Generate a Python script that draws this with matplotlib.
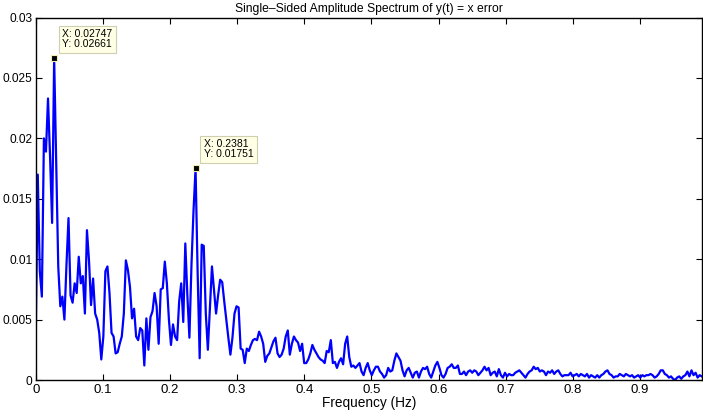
import numpy as np
import matplotlib
matplotlib.use('Agg')
import matplotlib.pyplot as plt

plt.rcParams['font.family'] = ['Liberation Sans', 'DejaVu Sans']

# frequency step of the spectrum (Hz)
df = 0.0030523

# single-sided amplitude, one value per frequency bin
amp = [
    # 0 - 0.15
    0.0032, 0.0170, 0.0090, 0.0069, 0.0200, 0.0189, 0.0233, 0.0185, 0.0130, 0.02661,
    0.0180, 0.0094, 0.0061, 0.0069, 0.0050, 0.0095, 0.0134, 0.0070, 0.0064, 0.0080,
    0.0072, 0.0102, 0.0080, 0.0086, 0.0055, 0.0124, 0.0099, 0.0062, 0.0084, 0.0055,
    0.0050, 0.0039, 0.0017, 0.0036, 0.0090, 0.0094, 0.0072, 0.0039, 0.0036, 0.0022,
    0.0023, 0.0030, 0.0036, 0.0055, 0.0099, 0.0091, 0.0077, 0.0051, 0.0059, 0.0036,
    0.0033,
    # 0.15 - 0.30
    0.0043, 0.0041, 0.0012, 0.0051, 0.0025, 0.0052, 0.0057, 0.0072, 0.0061, 0.0030,
    0.0075, 0.0076, 0.0098, 0.0080, 0.0050, 0.0029, 0.0046, 0.0036, 0.0033, 0.0065,
    0.0080, 0.0048, 0.0113, 0.0070, 0.0035, 0.0095, 0.0140, 0.01751, 0.0090, 0.0018,
    0.0112, 0.0111, 0.0055, 0.0025, 0.0060, 0.0094, 0.0075, 0.0055, 0.0070, 0.0083,
    0.0081, 0.0065, 0.0050, 0.0035, 0.0021, 0.0035, 0.0055, 0.0061, 0.0060,
    # 0.30 - 0.46
    0.0026, 0.0025, 0.0014, 0.0026, 0.0024, 0.0029, 0.0033, 0.0034, 0.0033, 0.0040,
    0.0036, 0.0030, 0.0015, 0.0020, 0.0022, 0.0027, 0.0032, 0.0035, 0.0022, 0.0019,
    0.0021, 0.0026, 0.0036, 0.0041, 0.0021, 0.0030, 0.0036, 0.0033, 0.0031, 0.0024,
    0.0030, 0.0014, 0.0014, 0.0017, 0.0022, 0.0029, 0.0025, 0.0022, 0.0019, 0.0017,
    0.0016, 0.0014, 0.0024, 0.0023, 0.0033, 0.0014, 0.0015, 0.0010, 0.0015, 0.0018,
    0.0013, 0.0030, 0.0036,
    # 0.47 - 0.63
    0.0019, 0.0011, 0.0012, 0.0010, 0.0012, 0.0014, 0.0007, 0.0004, 0.0010, 0.0014,
    0.0008, 0.0004, 0.0008, 0.0011, 0.0011, 0.0007, 0.0005, 0.0002, 0.0004, 0.0010,
    0.0007, 0.0008, 0.0016, 0.0022, 0.0019, 0.0016, 0.0008, 0.0003, 0.0008, 0.0010,
    0.0006, 0.0002, 0.0006, 0.0007, 0.0002, 0.0007, 0.0010, 0.0009, 0.0011, 0.0005,
    0.0002, 0.0007, 0.0012, 0.0015, 0.0010, 0.0004, 0.0002, 0.0005, 0.0010, 0.0011,
    0.0013, 0.0010, 0.0010, 0.0012,
    # 0.63 - 0.80
    0.0005, 0.0005, 0.0007, 0.0004, 0.0007, 0.0008, 0.0006, 0.0008, 0.0007, 0.0004,
    0.0006, 0.0008, 0.0011, 0.0008, 0.0010, 0.0004, 0.0006, 0.0007, 0.0003, 0.0009,
    0.0004, 0.0002, 0.0006, 0.0003, 0.0005, 0.0004, 0.0004, 0.0006, 0.0007, 0.0008,
    0.0006, 0.0004, 0.0002, 0.0005, 0.0007, 0.0008, 0.0011, 0.0009, 0.0010, 0.0007,
    0.0008, 0.0007, 0.0004, 0.0007, 0.0006, 0.0008, 0.0005, 0.0007, 0.0008, 0.0005,
    0.0003, 0.0004, 0.0004, 0.0004, 0.0006, 0.0003,
    # 0.80 - 0.99
    0.0004, 0.0005, 0.0003, 0.0005, 0.0004, 0.0003, 0.0005, 0.0002, 0.0004, 0.0003,
    0.0002, 0.0004, 0.0002, 0.0004, 0.0005, 0.0007, 0.0008, 0.0005, 0.0004, 0.0002,
    0.0003, 0.0003, 0.0005, 0.0004, 0.0003, 0.0005, 0.0004, 0.0003, 0.0004, 0.0002,
    0.0003, 0.0004, 0.0002, 0.0004, 0.0003, 0.0004, 0.0004, 0.0005, 0.0004, 0.0002,
    0.0003, 0.0005, 0.0008, 0.0008, 0.0005, 0.0004, 0.0002, 0.0003, 0.0001, 0.0000,
    0.0002, 0.0003, 0.0001, 0.0003, 0.0004, 0.0007, 0.0003, 0.0008, 0.0004, 0.0006,
    0.0002, 0.0004, 0.0003,
]

# data tips shown on the plot
tip_x = [0.02747, 0.2381]
tip_y = [0.02661, 0.01751]

xticks = [0, 0.1, 0.2, 0.3, 0.4, 0.5, 0.6, 0.7, 0.8, 0.9]
xticklabels = ['0', '0.1', '0.2', '0.3', '0.4', '0.5', '0.6', '0.7', '0.8', '0.9']
yticks = [0, 0.005, 0.01, 0.015, 0.02, 0.025, 0.03]
yticklabels = ['0', '0.005', '0.01', '0.015', '0.02', '0.025', '0.03']

freq = np.arange(len(amp)) * df

fig = plt.figure(figsize=(7.03, 4.13), dpi=100)
ax = fig.add_axes([0.0508, 0.0799, 0.9474, 0.8777])

ax.plot(freq, amp, color='#0000ff', lw=1.6)

ax.set_xlim(0, freq[-1])
ax.set_ylim(0, 0.03)
ax.set_xticks(xticks)
ax.set_xticklabels(xticklabels)
ax.set_yticks(yticks)
ax.set_yticklabels(yticklabels)
ax.tick_params(direction='in', top=True, right=True, length=4, width=0.8)
ax.tick_params(axis='x', labelsize=9.5, pad=3)
# y labels kept just inside the figure edge
ax.tick_params(axis='y', labelsize=8.6, pad=2.5)
for s in ax.spines.values():
    s.set_linewidth(1.0)

ax.set_title('Single\u2013Sided Amplitude Spectrum of y(t) = x error', fontsize=8.7, pad=4)
ax.set_xlabel('Frequency (Hz)', fontsize=9.8, labelpad=0)

# MATLAB style data tips
for x, y in zip(tip_x, tip_y):
    ax.plot(x, y, 's', ms=4.5, mfc='black', mec='#f2eeb0', mew=0.8, zorder=5)
    ax.annotate('X: %s\nY: %s' % (x, y), xy=(x, y), xytext=(8, 9),
                textcoords='offset pixels', ha='left', va='bottom', fontsize=7.5,
                linespacing=1.0,
                bbox=dict(boxstyle='square,pad=0.35', fc='#ffffe6', ec='#cfcfb0', lw=0.8),
                zorder=6)

fig.savefig('out.png', dpi=100)
